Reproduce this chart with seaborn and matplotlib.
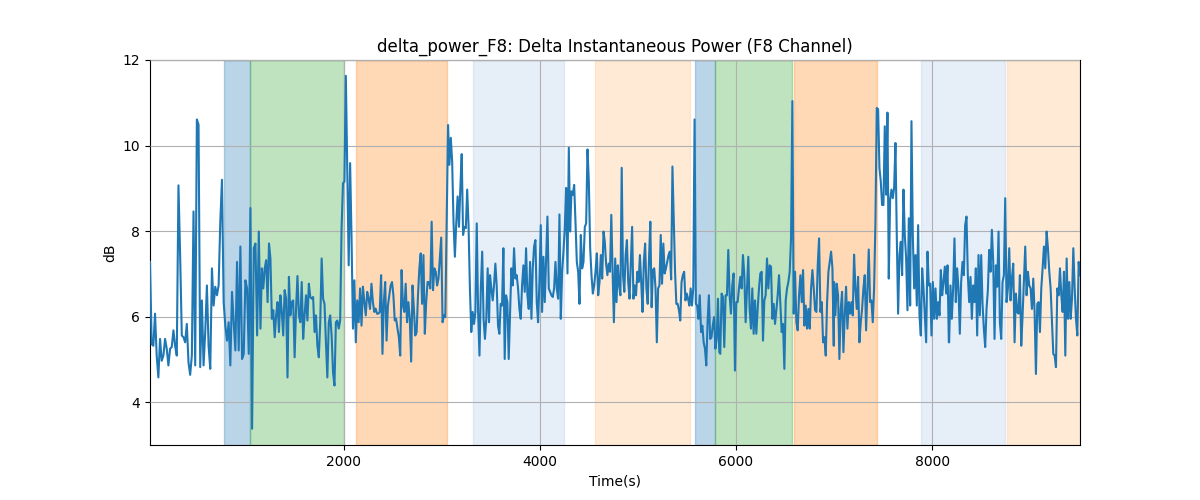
import numpy as np
import pandas as pd
import matplotlib
matplotlib.use("Agg")
import matplotlib.pyplot as plt
import seaborn as sns

# time range (s) covered by each block of readings
segment_bounds = [(27, 1136), (1153, 2299), (2313, 3483), (3493, 4650),
                  (4663, 5830), (5840, 6997), (7000, 8170), (8173, 9507)]

seg1 = [7.28, 5.36, 5.32, 6.07, 5.09, 4.58, 5.48, 4.97, 5.09, 5.48, 5.25, 4.86, 5.25, 5.29, 5.68,
        5.32, 5.09, 9.07, 7.44, 5.56, 5.52, 5.40, 5.83, 4.93, 4.64, 5.09, 8.46, 4.86, 10.61, 10.49,
        4.82, 6.38, 4.86, 5.64, 6.73, 5.32, 4.78, 7.13, 6.26, 6.70, 6.50, 6.73, 8.22, 9.20, 6.34,
        5.79, 5.44, 5.87, 4.86, 6.58, 5.87, 5.21, 7.28, 5.21, 7.64, 5.01, 5.13, 6.85, 6.66, 5.13,
        8.54, 3.38, 7.60, 7.71, 5.56, 7.99]
seg2 = [5.72, 7.13, 6.66, 7.13, 7.32, 6.34, 7.71, 7.36, 5.95, 6.15, 5.52, 6.03, 6.34, 5.64, 6.50,
        6.11, 5.56, 6.62, 6.42, 4.58, 6.93, 6.03, 6.34, 6.38, 5.05, 6.18, 6.95, 6.03, 5.87, 6.81,
        5.48, 6.03, 6.50, 5.91, 6.77, 6.46, 6.42, 6.46, 5.64, 6.03, 5.32, 5.05, 5.87, 7.36, 6.42,
        6.30, 5.40, 4.58, 5.87, 6.03, 5.56, 4.70, 4.39, 5.87, 5.91, 5.72, 5.91, 8.07, 9.12, 9.16,
        11.63, 9.40, 7.20, 9.59, 7.83, 5.72, 6.85, 5.40, 6.38, 5.87, 6.66, 5.79, 6.70, 6.34, 6.03,
        6.58, 6.42, 6.18, 6.77, 6.34]
seg3 = [6.11, 6.19, 6.07, 6.07, 6.11, 6.97, 5.13, 6.34, 6.81, 5.44, 6.26, 6.50, 6.73, 6.81, 6.50,
        5.91, 5.95, 5.72, 5.52, 5.09, 7.09, 6.26, 6.11, 6.77, 5.87, 6.34, 5.95, 4.95, 6.73, 6.18,
        5.56, 5.64, 6.50, 7.13, 7.48, 6.30, 7.44, 5.60, 6.34, 6.81, 6.81, 6.66, 8.22, 6.62, 7.13,
        7.05, 6.73, 6.89, 7.36, 7.85, 5.87, 6.03, 5.99, 8.22, 10.48, 9.55, 10.18, 9.63, 8.22, 7.40,
        8.18, 8.81, 8.10, 9.01, 9.80, 7.91, 8.10, 8.07, 8.97, 8.14, 6.66, 5.64, 6.11, 5.83, 6.11,
        8.18, 6.11, 5.09, 6.66, 7.52, 5.95, 5.48, 5.95, 7.13, 5.87]
seg4 = [6.97, 6.66, 6.38, 6.73, 7.24, 6.73, 5.79, 5.60, 6.30, 6.26, 7.60, 5.01, 6.50, 6.34, 5.01,
        6.03, 7.13, 6.73, 7.60, 6.89, 6.97, 6.66, 6.18, 5.95, 6.73, 7.20, 6.58, 7.60, 6.50, 6.18,
        7.28, 5.95, 7.13, 7.64, 7.79, 6.34, 5.87, 6.81, 8.14, 6.11, 7.40, 6.34, 7.36, 8.34, 6.66,
        6.58, 6.50, 6.46, 6.66, 7.28, 6.66, 6.42, 8.39, 5.95, 7.05, 7.52, 8.07, 9.01, 7.01, 9.95,
        7.99, 8.93, 8.85, 9.08, 8.22, 7.28, 7.05, 6.30, 7.91, 7.13, 7.28, 8.10, 8.18, 9.91, 9.16,
        7.60, 6.97, 6.54, 6.73, 7.05, 7.48, 6.50, 6.81, 7.44, 6.89, 7.99]
seg5 = [7.75, 7.24, 6.97, 7.24, 7.05, 8.38, 7.05, 5.87, 7.36, 6.34, 7.20, 6.73, 6.50, 9.48, 6.97,
        6.58, 7.44, 7.79, 6.81, 6.42, 7.28, 8.10, 6.42, 6.73, 6.50, 7.05, 6.81, 7.44, 6.81, 6.11,
        7.28, 7.71, 6.66, 6.30, 7.36, 8.22, 6.22, 7.09, 7.13, 6.66, 5.40, 6.66, 6.73, 7.91, 6.77,
        7.71, 7.01, 7.13, 7.28, 7.44, 7.52, 6.87, 9.51, 8.30, 7.05, 6.30, 6.30, 6.15, 5.91, 6.81,
        6.97, 7.05, 6.38, 6.54, 6.42, 6.26, 6.66, 6.26, 6.66, 10.61, 6.30, 6.26, 5.95, 6.50, 5.64,
        5.79, 5.40, 5.25, 4.86, 5.87, 6.50, 5.48, 5.52, 5.79, 5.99, 5.25, 5.48, 6.42, 5.17]
seg6 = [5.13, 6.54, 6.46, 5.29, 6.50, 6.50, 7.56, 6.50, 6.07, 6.73, 7.01, 4.74, 6.34, 6.34, 6.66,
        6.93, 6.66, 7.44, 6.97, 5.87, 6.66, 7.40, 6.18, 5.72, 6.66, 5.60, 6.38, 5.60, 6.18, 6.66,
        7.01, 7.05, 5.44, 6.38, 6.50, 7.36, 6.66, 7.20, 7.17, 5.95, 6.30, 5.83, 6.15, 6.50, 6.97,
        6.30, 5.64, 5.83, 4.78, 6.38, 6.66, 6.81, 7.05, 7.83, 11.04, 6.07, 7.05, 5.87, 5.68, 6.50,
        6.97, 6.34, 7.09, 5.79, 6.26, 5.72, 6.18, 5.72, 6.66, 7.09, 6.66, 6.15, 6.11, 7.20, 7.83,
        6.11, 6.34, 5.40, 5.52, 5.09, 6.34, 7.05, 7.28, 7.52, 7.13, 5.32]
seg7 = [6.81, 6.03, 6.77, 6.50, 5.01, 6.18, 6.58, 5.17, 6.03, 6.70, 5.72, 6.34, 6.07, 6.34, 6.03,
        7.45, 6.66, 6.18, 6.93, 5.40, 5.87, 6.18, 6.66, 6.97, 5.68, 6.66, 7.57, 6.34, 6.38, 5.87,
        6.66, 8.22, 10.88, 10.85, 9.48, 9.16, 8.61, 8.61, 10.45, 8.85, 10.77, 6.89, 8.73, 8.97, 8.77,
        9.01, 10.06, 7.87, 6.07, 7.44, 7.75, 6.97, 8.97, 7.91, 7.36, 6.15, 8.30, 6.26, 10.57, 7.91,
        6.66, 7.44, 6.26, 8.14, 6.03, 5.56, 7.13, 6.66, 6.03, 5.40, 7.52, 6.73, 6.77, 5.56, 6.81,
        5.95, 6.66, 5.95, 6.34, 6.03, 7.09, 6.50, 6.81, 7.17, 6.54, 7.20, 5.40]
seg8 = [5.40, 6.73, 5.95, 6.66, 7.83, 6.34, 7.13, 6.66, 5.60, 6.81, 7.28, 6.97, 8.14, 8.34, 6.97,
        6.34, 6.93, 5.95, 6.73, 6.34, 7.13, 5.56, 7.44, 6.03, 7.44, 6.30, 5.72, 5.29, 6.18, 6.62,
        7.56, 7.05, 8.03, 7.28, 5.48, 7.20, 6.70, 7.99, 5.87, 5.48, 6.81, 6.97, 8.77, 6.34, 6.66,
        7.60, 6.38, 6.89, 7.24, 5.40, 6.54, 6.11, 6.07, 6.97, 5.32, 6.03, 6.81, 7.64, 6.50, 7.05,
        6.73, 6.66, 6.18, 6.89, 6.11, 4.66, 6.30, 6.34, 5.64, 6.66, 7.13, 7.64, 7.13, 7.99, 7.60,
        7.05, 6.66, 5.87, 5.13, 5.09, 4.82, 6.66, 6.50, 7.13, 6.50, 6.11, 7.05, 5.09, 7.36, 5.95,
        6.81, 5.95, 6.42, 7.60, 6.66, 5.95, 5.56, 7.28, 6.97]

# shaded intervals: start, end, colour, opacity
span_starts = [786, 1051, 2129, 3316, 4561, 5582, 5786, 6588, 7888, 8762]
span_ends = [1051, 2003, 3058, 4252, 5531, 5786, 6574, 7435, 8745, 9507]
span_colors = ["tab:blue", "tab:green", "tab:orange", "#aec7e8", "#ffbb78",
               "tab:blue", "tab:green", "tab:orange", "#aec7e8", "#ffbb78"]
span_alphas = [0.3, 0.3, 0.3, 0.3, 0.3, 0.3, 0.3, 0.3, 0.3, 0.3]

segments = [seg1, seg2, seg3, seg4, seg5, seg6, seg7, seg8]
times, values = [], []
for (t0, t1), seg in zip(segment_bounds, segments):
    times.extend(np.linspace(t0, t1, len(seg)))
    values.extend(seg)
df = pd.DataFrame({"Time(s)": times, "dB": values})

fig, ax = plt.subplots(figsize=(12, 5), dpi=100)
for s, e, c, a in zip(span_starts, span_ends, span_colors, span_alphas):
    ax.axvspan(s, e, color=c, alpha=a, zorder=0)

sns.lineplot(data=df, x="Time(s)", y="dB", ax=ax, color="tab:blue", linewidth=1.5,
             estimator=None, zorder=3)
ax.grid(True, color="#b0b0b0", linewidth=0.8, zorder=1)
ax.set_axisbelow(False)
ax.set_xlim(df["Time(s)"].min(), df["Time(s)"].max())
ax.set_ylim(3, 12)
ax.set_xticks([2000, 4000, 6000, 8000])
ax.set_yticks([4, 6, 8, 10, 12])
ax.set_title("delta_power_F8: Delta Instantaneous Power (F8 Channel)")
ax.set_xlabel("Time(s)")
ax.set_ylabel("dB")
fig.savefig("out.png", dpi=100)
